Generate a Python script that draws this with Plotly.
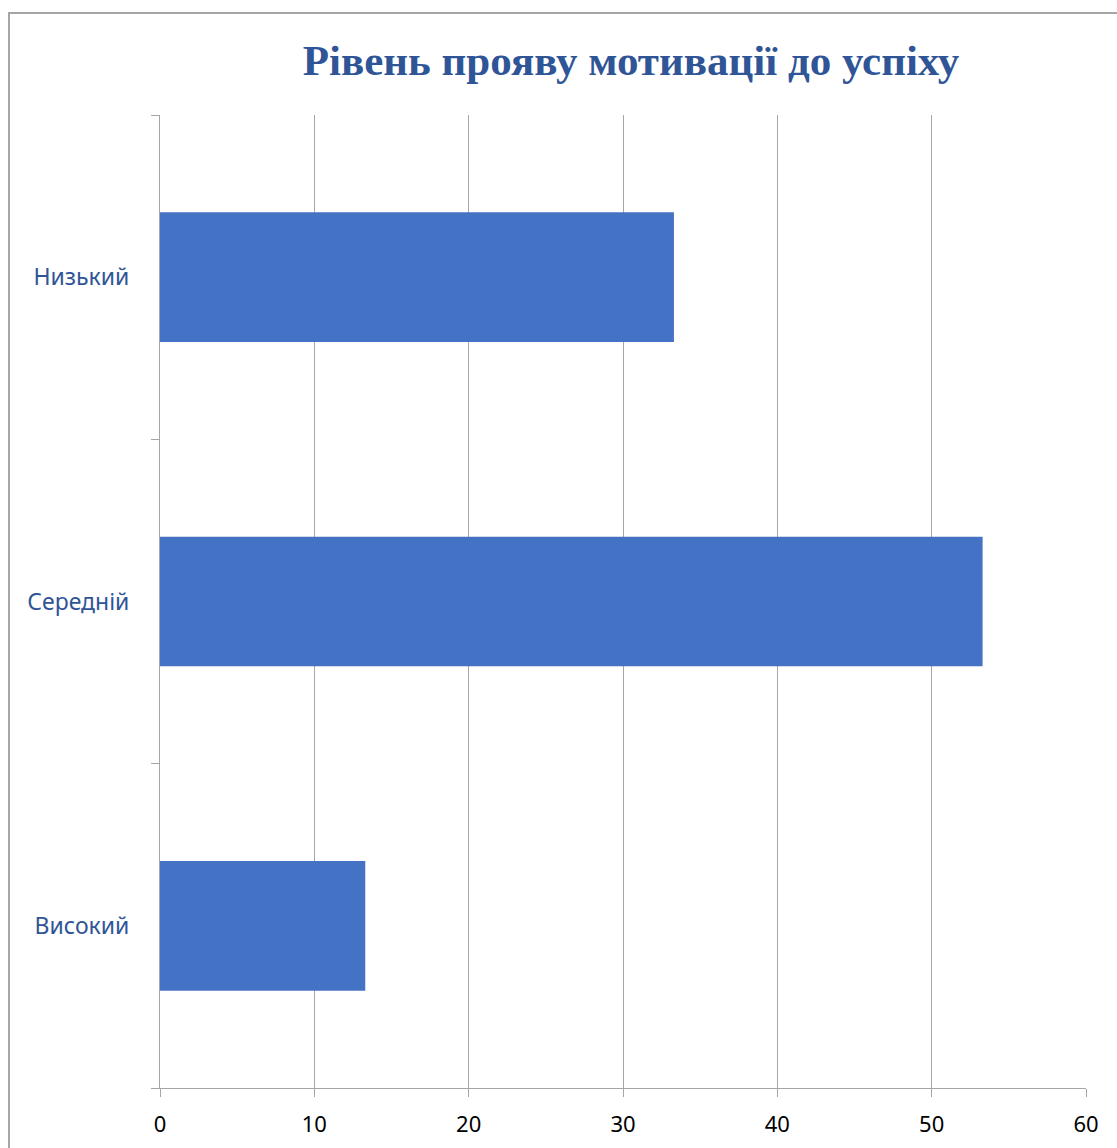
import plotly.graph_objects as go

categories = ["Високий", "Середній", "Низький"]
values = [13.3, 53.3, 33.3]
x_ticks = [0, 10, 20, 30, 40, 50, 60]

W, H = 1117, 1148
L, R, T, B = 160, 31, 115, 60
PW = W - L - R
grid = "#a6a6a6"

fig = go.Figure(go.Bar(
    y=categories, x=values, orientation="h",
    marker=dict(color="#4472C4", line=dict(width=0)),
    width=0.4,
))

fig.update_layout(
    width=W, height=H,
    margin=dict(l=L, r=R, t=T, b=B),
    paper_bgcolor="white", plot_bgcolor="white",
    showlegend=False,
    title=dict(
        text="<b>Рівень прояву мотивації до успіху</b>",
        font=dict(family="Liberation Serif", size=43, color="#2F5597"),
        x=(631 - L) / PW, xanchor="center", xref="paper",
        y=1 - 60 / H, yanchor="middle", yref="container",
    ),
    xaxis=dict(
        range=[0, 60], tickvals=x_ticks, ticktext=[str(v) for v in x_ticks],
        showgrid=True, gridcolor=grid, gridwidth=1,
        showline=True, linecolor=grid, linewidth=1,
        ticks="outside", ticklen=8, tickcolor=grid,
        tickfont=dict(family="Noto Sans", size=22, color="black"),
        ticklabelstandoff=9, automargin=False,
        zeroline=False, fixedrange=True,
    ),
    yaxis=dict(
        categoryorder="array", categoryarray=categories,
        showgrid=False, showline=True, linecolor=grid, linewidth=1,
        ticks="outside", ticklen=8, tickcolor=grid, tickson="boundaries",
        tickfont=dict(family="Noto Sans", size=23, color="#2F5597"),
        ticklabelstandoff=25, automargin=False,
        zeroline=False, fixedrange=True,
    ),
    shapes=[dict(
        type="rect", xref="paper", yref="paper",
        x0=(9 - L) / PW, x1=(W + 20 - L) / PW,
        y0=-(B + 20) / (H - T - B), y1=1 + (T - 13) / (H - T - B),
        line=dict(color="#a6a6a6", width=2), fillcolor="rgba(0,0,0,0)",
        layer="below",
    )],
)

fig.write_html("out.html")
